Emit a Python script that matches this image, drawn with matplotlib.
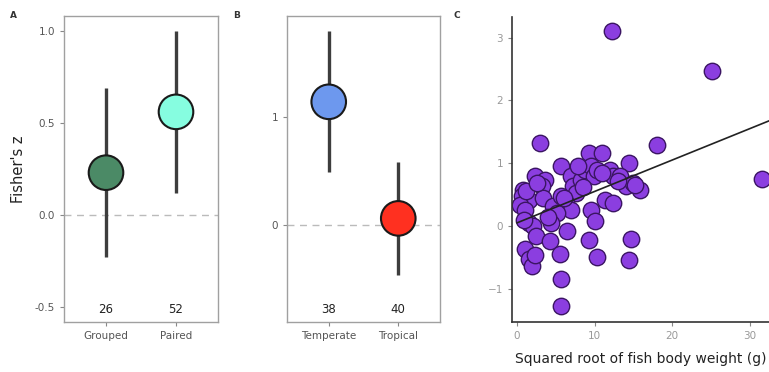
import matplotlib.pyplot as plt
import numpy as np

# panel A: sampling design
design = ["Grouped", "Paired"]
design_z = [0.23, 0.56]
design_lo = [-0.23, 0.12]
design_hi = [0.69, 1.0]
design_n = [26, 52]
design_col = ["#4b8a66", "#86fde0"]

# panel B: climate
climate = ["Temperate", "Tropical"]
climate_z = [1.14, 0.06]
climate_lo = [0.49, -0.46]
climate_hi = [1.80, 0.58]
climate_n = [38, 40]
climate_col = ["#6d98ee", "#ff3020"]

# panel C: body weight vs effect size
sqrt_weight = [2.9, 18.0, 9.3, 10.9, 5.7, 14.5, 2.3, 3.6, 3.2, 0.8, 0.6, 1.5, 0.4, 1.05,
               3.4, 4.6, 6.9, 7.2, 7.6, 8.2, 8.8, 9.5, 9.9, 10.3, 12.0, 12.4, 13.3, 14.1,
               14.9, 15.8, 5.7, 6.3, 6.9, 5.1, 4.4, 1.5, 2.1, 2.5, 4.2, 6.5, 9.5, 10.1,
               11.4, 12.4, 9.3, 10.3, 14.7, 14.5, 1.05, 1.5, 1.9, 5.5, 5.7, 5.7, 2.3,
               12.3, 25.2, 31.6, 1.2, 2.6, 7.9, 8.5, 13.0, 4.0, 0.9, 6.0, 11.0, 15.2]
fisher_z = [1.32, 1.29, 1.16, 1.16, 0.96, 1.0, 0.79, 0.74, 0.63, 0.58, 0.47, 0.42, 0.34, 0.26,
            0.45, 0.32, 0.79, 0.63, 0.53, 0.74, 0.89, 0.95, 0.79, 0.89, 0.89, 0.79, 0.79, 0.63,
            0.68, 0.58, 0.47, 0.37, 0.26, 0.21, 0.05, 0.05, 0.0, -0.16, -0.24, -0.08, 0.26, 0.08,
            0.42, 0.37, -0.22, -0.5, -0.21, -0.55, -0.37, -0.53, -0.63, -0.45, -0.84, -1.28, -0.47,
            3.11, 2.47, 0.75, 0.55, 0.68, 0.95, 0.62, 0.72, 0.15, 0.1, 0.45, 0.85, 0.65]
fit_x = [0, 33]
fit_y = [0.05, 1.70]

W, H = 769, 372
fig = plt.figure(figsize=(W / 100, H / 100), dpi=100)
tick_gray = "#555555"


def px_axes(l, r, t, b):
    return fig.add_axes([l / W, 1 - b / H, (r - l) / W, (b - t) / H])


def forest(ax, cats, z, lo, hi, n, cols, ylim, yticks, ylabs, n_y):
    x = np.arange(1, len(cats) + 1)
    ax.axhline(0, color="#bbbbbb", ls=(0, (5, 4)), lw=1, zorder=1)
    ax.vlines(x, lo, hi, color="#3d3d3d", lw=2.4, zorder=2)
    ax.scatter(x, z, s=620, c=cols, edgecolors="#1a1a1a", linewidths=1.5, zorder=3)
    for xi, ni in zip(x, n):
        ax.text(xi, n_y, str(ni), ha="center", va="center", fontsize=8.5, color="#222222")
    ax.set_xlim(0.4, 2.6)
    ax.set_ylim(*ylim)
    ax.set_xticks(x)
    ax.set_xticklabels(cats)
    ax.set_yticks(yticks)
    ax.set_yticklabels(ylabs)
    for s in ax.spines.values():
        s.set_color("#a0a0a0")
        s.set_linewidth(1)
    ax.tick_params(colors="#888888", labelcolor=tick_gray, labelsize=7.5, length=3, width=0.8)


axA = px_axes(64, 218, 16, 322)
forest(axA, design, design_z, design_lo, design_hi, design_n, design_col,
       (-0.58, 1.08), [-0.5, 0, 0.5, 1.0], ["-0.5", "0.0", "0.5", "1.0"], -0.51)
axA.set_ylabel("Fisher's z", fontsize=10.5, color="#222222", labelpad=6)

axB = px_axes(287, 440, 16, 322)
forest(axB, climate, climate_z, climate_lo, climate_hi, climate_n, climate_col,
       (-0.9, 1.935), [0, 1], ["0", "1"], -0.78)

axC = px_axes(512, 769, 17, 322)
axC.scatter(sqrt_weight, fisher_z, s=140, c="#8b3ee0", edgecolors="#3b1563",
            linewidths=1.0, zorder=2)
axC.plot(fit_x, fit_y, color="#222222", lw=1.2, zorder=3)
axC.set_xlim(-0.65, 32.5)
axC.set_ylim(-1.53, 3.33)
axC.set_xticks([0, 10, 20, 30])
axC.set_yticks([-1, 0, 1, 2, 3])
for side in ["top", "right"]:
    axC.spines[side].set_visible(False)
for side in ["left", "bottom"]:
    axC.spines[side].set_color("#333333")
    axC.spines[side].set_linewidth(1.2)
axC.tick_params(colors="#888888", labelcolor="#999999", labelsize=7.5, length=3, width=0.8)
axC.set_xlabel("Squared root of fish body weight (g)", fontsize=10, color="#222222", labelpad=8)

for lab, xp in zip(["A", "B", "C"], [10, 233, 453]):
    fig.text(xp / W, 1 - 15 / H, lab, fontsize=6.5, fontweight="bold", color="#333333",
             ha="left", va="center")

fig.savefig("out.png", dpi=100)
